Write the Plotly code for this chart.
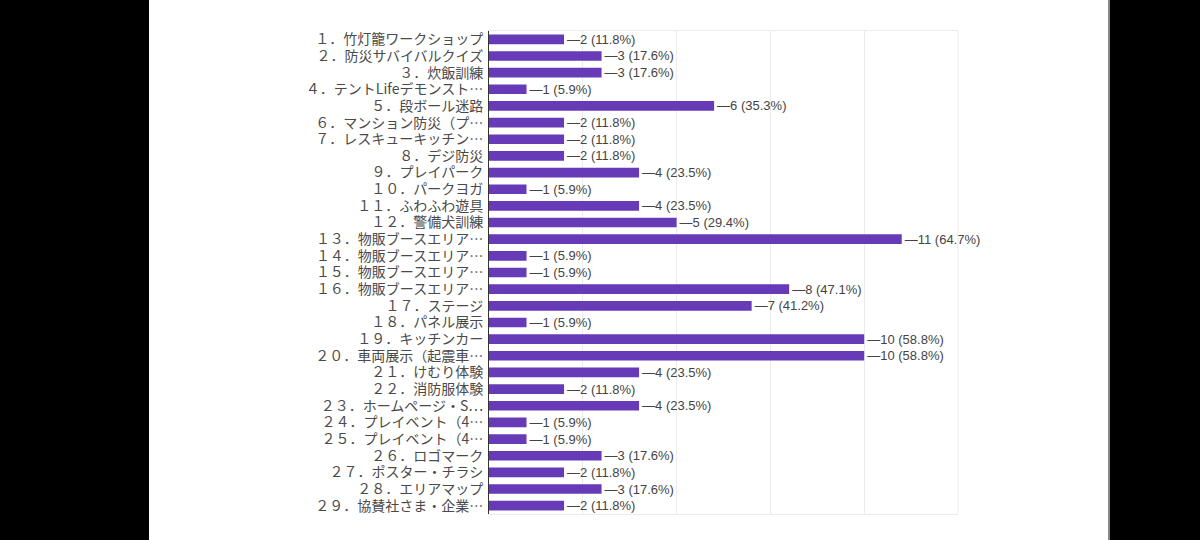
import plotly.graph_objects as go

# items (answer choices), vote counts and the percentages shown on the chart
labels = [
    "１．竹灯籠ワークショップ",
    "２．防災サバイバルクイズ",
    "３．炊飯訓練",
    "４．テントLifeデモンスト…",
    "５．段ボール迷路",
    "６．マンション防災（プ…",
    "７．レスキューキッチン…",
    "８．デジ防災",
    "９．プレイパーク",
    "１０．パークヨガ",
    "１１．ふわふわ遊具",
    "１２．警備犬訓練",
    "１３．物販ブースエリア…",
    "１４．物販ブースエリア…",
    "１５．物販ブースエリア…",
    "１６．物販ブースエリア…",
    "１７．ステージ",
    "１８．パネル展示",
    "１９．キッチンカー",
    "２０．車両展示（起震車…",
    "２１．けむり体験",
    "２２．消防服体験",
    "２３．ホームページ・S…",
    "２４．プレイベント（4…",
    "２５．プレイベント（4…",
    "２６．ロゴマーク",
    "２７．ポスター・チラシ",
    "２８．エリアマップ",
    "２９．協賛社さま・企業…",
]
counts = [2, 3, 3, 1, 6, 2, 2, 2, 4, 1, 4, 5, 11, 1, 1, 8, 7, 1, 10, 10,
          4, 2, 4, 1, 1, 3, 2, 3, 2]
percents = ["11.8", "17.6", "17.6", "5.9", "35.3", "11.8", "11.8", "11.8",
            "23.5", "5.9", "23.5", "29.4", "64.7", "5.9", "5.9", "47.1",
            "41.2", "5.9", "58.8", "58.8", "23.5", "11.8", "23.5", "5.9",
            "5.9", "17.6", "11.8", "17.6", "11.8"]

W, H = 1200, 540
L, R, T, B = 489, 958, 31, 514   # plot area in pixels
pw, ph = R - L, B - T

fig = go.Figure(go.Bar(
    y=labels, x=counts, orientation="h",
    marker_color="#673ab7", marker_line_width=0,
    customdata=percents,
    texttemplate="—%{x} (%{customdata}%)",
    textposition="outside", constraintext="none", cliponaxis=False,
    textfont=dict(family="Liberation Sans, Arial", size=13, color="#444"),
    hoverinfo="skip",
))


def px_x(p):
    return (p - L) / pw


def px_y(p):
    return (B - p) / ph


# black bands left and right of the captured window
for x0, x1 in [(0, 149), (1109, 1200)]:
    fig.add_shape(type="rect", xref="paper", yref="paper",
                  x0=px_x(x0), x1=px_x(x1), y0=px_y(H + 10), y1=px_y(-10),
                  fillcolor="black", line_width=0, layer="below")
fig.add_shape(type="line", xref="paper", yref="paper",
              x0=px_x(1109), x1=px_x(1109), y0=px_y(H + 10), y1=px_y(-10),
              line=dict(color="#888", width=2), layer="below")
fig.add_shape(type="line", xref="paper", yref="paper",
              x0=1, x1=1, y0=0, y1=1, line=dict(color="#ebebeb", width=1))

fig.update_layout(
    width=W, height=H,
    margin=dict(l=L, r=W - R, t=T, b=H - B, pad=0),
    paper_bgcolor="white", plot_bgcolor="white",
    bargap=0.42, showlegend=False,
    font=dict(family="Noto Sans CJK JP", size=13, color="#444"),
)
fig.update_xaxes(range=[0, 12.5], dtick=2.5, showticklabels=False,
                 showgrid=True, gridcolor="#ebebeb", zeroline=False,
                 showline=True, mirror=True, linecolor="#ebebeb", fixedrange=True)
fig.update_yaxes(autorange="reversed", showline=True, linecolor="#333",
                 linewidth=1, showgrid=False, ticks="", ticklabelstandoff=2,
                 tickmode="array", tickvals=labels, ticktext=labels,
                 tickfont=dict(family="Noto Sans CJK JP", size=14, color="#4a4a4a"))

fig.write_html("out.html", config={"displayModeBar": False},
               post_script="document.body.style.margin='0';")
